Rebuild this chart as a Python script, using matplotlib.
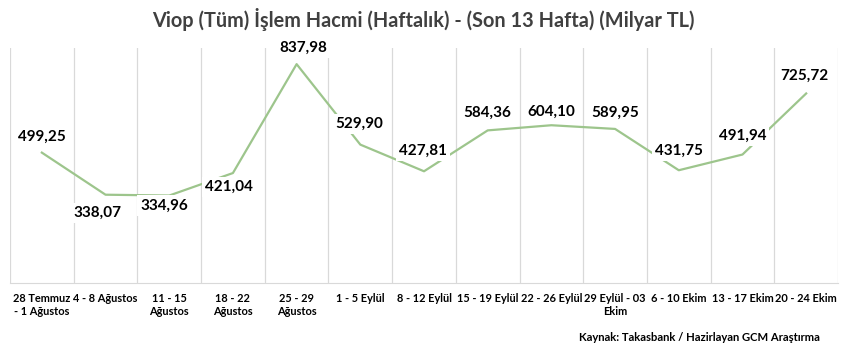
import matplotlib.pyplot as plt

plt.rcParams['font.family'] = ['Lato', 'DejaVu Sans']

weeks = ["28 Temmuz\n- 1 Ağustos", "4 - 8 Ağustos", "11 - 15\nAğustos", "18 - 22\nAğustos",
         "25 - 29\nAğustos", "1 - 5 Eylül", "8 - 12 Eylül", "15 - 19 Eylül", "22 - 26 Eylül",
         "29 Eylül - 03\nEkim", "6 - 10 Ekim", "13 - 17 Ekim", "20 - 24 Ekim"]
volume = [499.25, 338.07, 334.96, 421.04, 837.98, 529.90, 427.81, 584.36, 604.10,
          589.95, 431.75, 491.94, 725.72]
# label offsets in pixels (dx, dy)
label_off = [(0, 16), (-8, -18), (-5, -10), (-4, -14), (7, 16), (-1, 21), (-1, 20),
             (0, 18), (0, 13), (0, 16), (0, 19), (0, 19), (-2, 18)]

fig = plt.figure(figsize=(8.47, 3.5), dpi=100)
ax = fig.add_axes([0.0118, 0.1914, 0.9776, 0.6716])

x = list(range(len(weeks)))
ax.plot(x, volume, color='#9dc58c', lw=1.6, zorder=2)

for i, v in enumerate(volume):
    s = f"{v:.2f}".replace('.', ',')
    ax.annotate(s, (i, v), xytext=label_off[i], textcoords='offset pixels',
                ha='center', va='center', fontsize=11, fontweight='bold', color='black',
                bbox=dict(boxstyle='square,pad=0.2', fc='white', ec='none'), zorder=3)

for k in range(len(weeks) + 1):
    ax.axvline(k - 0.5, color='#d9d9d9', lw=0.9, zorder=0)

ax.set_xlim(-0.5, len(weeks) - 0.5)
ax.set_ylim(0, 900)
ax.set_yticks([])
ax.set_xticks(x)
ax.set_xticklabels(weeks, fontsize=7.9, fontweight='bold', linespacing=1.2)
ax.tick_params(axis='x', length=0, pad=7)
for sp in ['top', 'left', 'right']:
    ax.spines[sp].set_visible(False)
ax.spines['bottom'].set_color('#d9d9d9')

fig.text(0.5, 0.945, "Viop (Tüm) İşlem Hacmi (Haftalık) - (Son 13 Hafta) (Milyar TL)",
         ha='center', va='center', fontsize=14.3, fontweight='bold', color='#404040')
fig.text(0.968, 0.037, "Kaynak: Takasbank / Hazirlayan GCM Araştırma",
         ha='right', va='center', fontsize=8.1, fontweight='bold')

fig.savefig('out.png', dpi=100)
